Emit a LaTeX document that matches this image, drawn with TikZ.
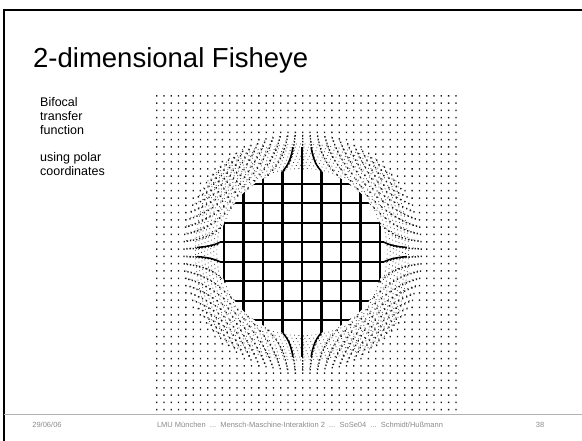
\documentclass[tikz,border=0pt]{standalone}
\usepackage{fontspec}
\setmainfont{Liberation Sans}
% polar bifocal transform (normalized units of 100px): focus magnified, ring compressed, rest unchanged
\newcommand\fishpt[2]{%
  \pgfmathsetmacro\fsr{max(sqrt((#1)*(#1)+(#2)*(#2)),0.001)}%
  \pgfmathsetmacro\fsf{ifthenelse(\fsr<=0.3107,2.671,ifthenelse(\fsr>=1.2,1,(0.83+(\fsr-0.3107)*0.416)/\fsr))}%
  \pgfmathsetmacro\fsx{302+100*\fsf*(#1)}%
  \pgfmathsetmacro\fsy{252+100*\fsf*(#2)}%
}
\begin{document}
\begin{tikzpicture}[x=1pt,y=-1pt,
  focusline/.style={line width=2.2pt,black},
  armline/.style={line width=1.5pt,black},
  outerline/.style={line width=0.7pt,black!75,dash pattern=on 0.9pt off 3.4pt},
  gridpoint/.style={black!90},
  frameline/.style={line width=1.5pt,black},
  footline/.style={line width=0.7pt,black!30},
  foottext/.style={font=\fontsize{7.5}{9}\selectfont,text=black!45,inner sep=0pt,anchor=base}]
\useasboundingbox (0,0) rectangle (582,441);
\fill[white] (0,0) rectangle (582,441);
% slide frame and footer rule
\draw[frameline] (582,10) -- (4,10) -- (4,441);
\draw[footline] (4,414) -- (582,414);
% title and description
\node[anchor=base west,inner sep=0pt,font=\fontsize{27.5}{32}\selectfont] (title) at (33,68) {2-dimensional Fisheye};
\node[anchor=north west,inner sep=0pt,align=left,font=\fontsize{12.5}{14}\selectfont] (desc) at (40,97) {Bifocal\\transfer\\function\\[13pt]using polar\\coordinates};
% compressed grid lines in the ring round the focus (dotted arcs)
\begin{scope}
\clip (302,252) circle[radius=119pt];
\foreach \k in {-12,...,12}{%
  \pgfmathsetmacro\fsu{\k*0.073}%
  \global\let\fspts\empty
  \foreach \j in {0,...,48}{%
    \pgfmathsetmacro\fsv{-1.20+\j*0.05}%
    \fishpt{\fsu}{\fsv}%
    \ifnum\j=0 \xdef\fspts{(\fsx,\fsy)}\else\xdef\fspts{\fspts--(\fsx,\fsy)}\fi
  }%
  \edef\fscmd{\noexpand\draw[outerline] \fspts;}\fscmd
}
\foreach \k in {-13,...,12}{%
  \pgfmathsetmacro\fsv{(\k+0.5)*0.073}%
  \global\let\fspts\empty
  \foreach \j in {0,...,48}{%
    \pgfmathsetmacro\fsu{-1.20+\j*0.05}%
    \fishpt{\fsu}{\fsv}%
    \ifnum\j=0 \xdef\fspts{(\fsx,\fsy)}\else\xdef\fspts{\fspts--(\fsx,\fsy)}\fi
  }%
  \edef\fscmd{\noexpand\draw[outerline] \fspts;}\fscmd
}
\end{scope}
% grid intersections as dots
\foreach \k in {-20,...,21}{%
  \pgfmathsetmacro\fsu{\k*0.073}%
  \global\let\fspts\empty
  \foreach \j in {-22,...,21}{%
    \pgfmathsetmacro\fsv{(\j+0.5)*0.073}%
    \fishpt{\fsu}{\fsv}%
    \xdef\fspts{\fspts (\fsx,\fsy) rectangle ++(1.3,1.5)}%
  }%
  \edef\fscmd{\noexpand\fill[gridpoint] \fspts;}\fscmd
}
% near-radial lines stay solid just outside the focus
\foreach \fpu/\fpv/\fdu/\fdv in {0/0/0/-1,0/0/0/1,0.073/0/0/-1,0.073/0/0/1,-0.073/0/0/-1,-0.073/0/0/1,0/0.0365/-1/0,0/0.0365/1/0,0/-0.0365/-1/0,0/-0.0365/1/0}{%
  \global\let\fspts\empty
  \foreach \j in {0,...,14}{%
    \pgfmathsetmacro\fst{0.28+\j*0.04}%
    \pgfmathsetmacro\fsu{\fpu+\fst*(\fdu)}%
    \pgfmathsetmacro\fsv{\fpv+\fst*(\fdv)}%
    \fishpt{\fsu}{\fsv}%
    \ifnum\j=0 \xdef\fspts{(\fsx,\fsy)}\else\xdef\fspts{\fspts--(\fsx,\fsy)}\fi
  }%
  \edef\fscmd{\noexpand\draw[armline] \fspts;}\fscmd
}
% magnified focus grid
\begin{scope}
  \fill[white] (302,252) circle[radius=82pt];
  \clip (302,252) circle[radius=83pt];
  \foreach \k in {-4,...,4} \draw[focusline] ({302+19.5*\k},160) -- ({302+19.5*\k},344);
  \foreach \k in {-4,...,3} \draw[focusline] (210,{252+19.5*(\k+0.5)}) -- (394,{252+19.5*(\k+0.5)});
\end{scope}
% footer
\node[foottext] (date) at (47,428) {29/06/06};
\node[foottext] (course) at (300,428) {LMU München\ \ ...\ \ Mensch-Maschine-Interaktion 2\ \ ...\ \ SoSe04\ \ ...\ \ Schmidt/Hußmann};
\node[foottext] (page) at (540,428) {38};
\end{tikzpicture}
\end{document}
